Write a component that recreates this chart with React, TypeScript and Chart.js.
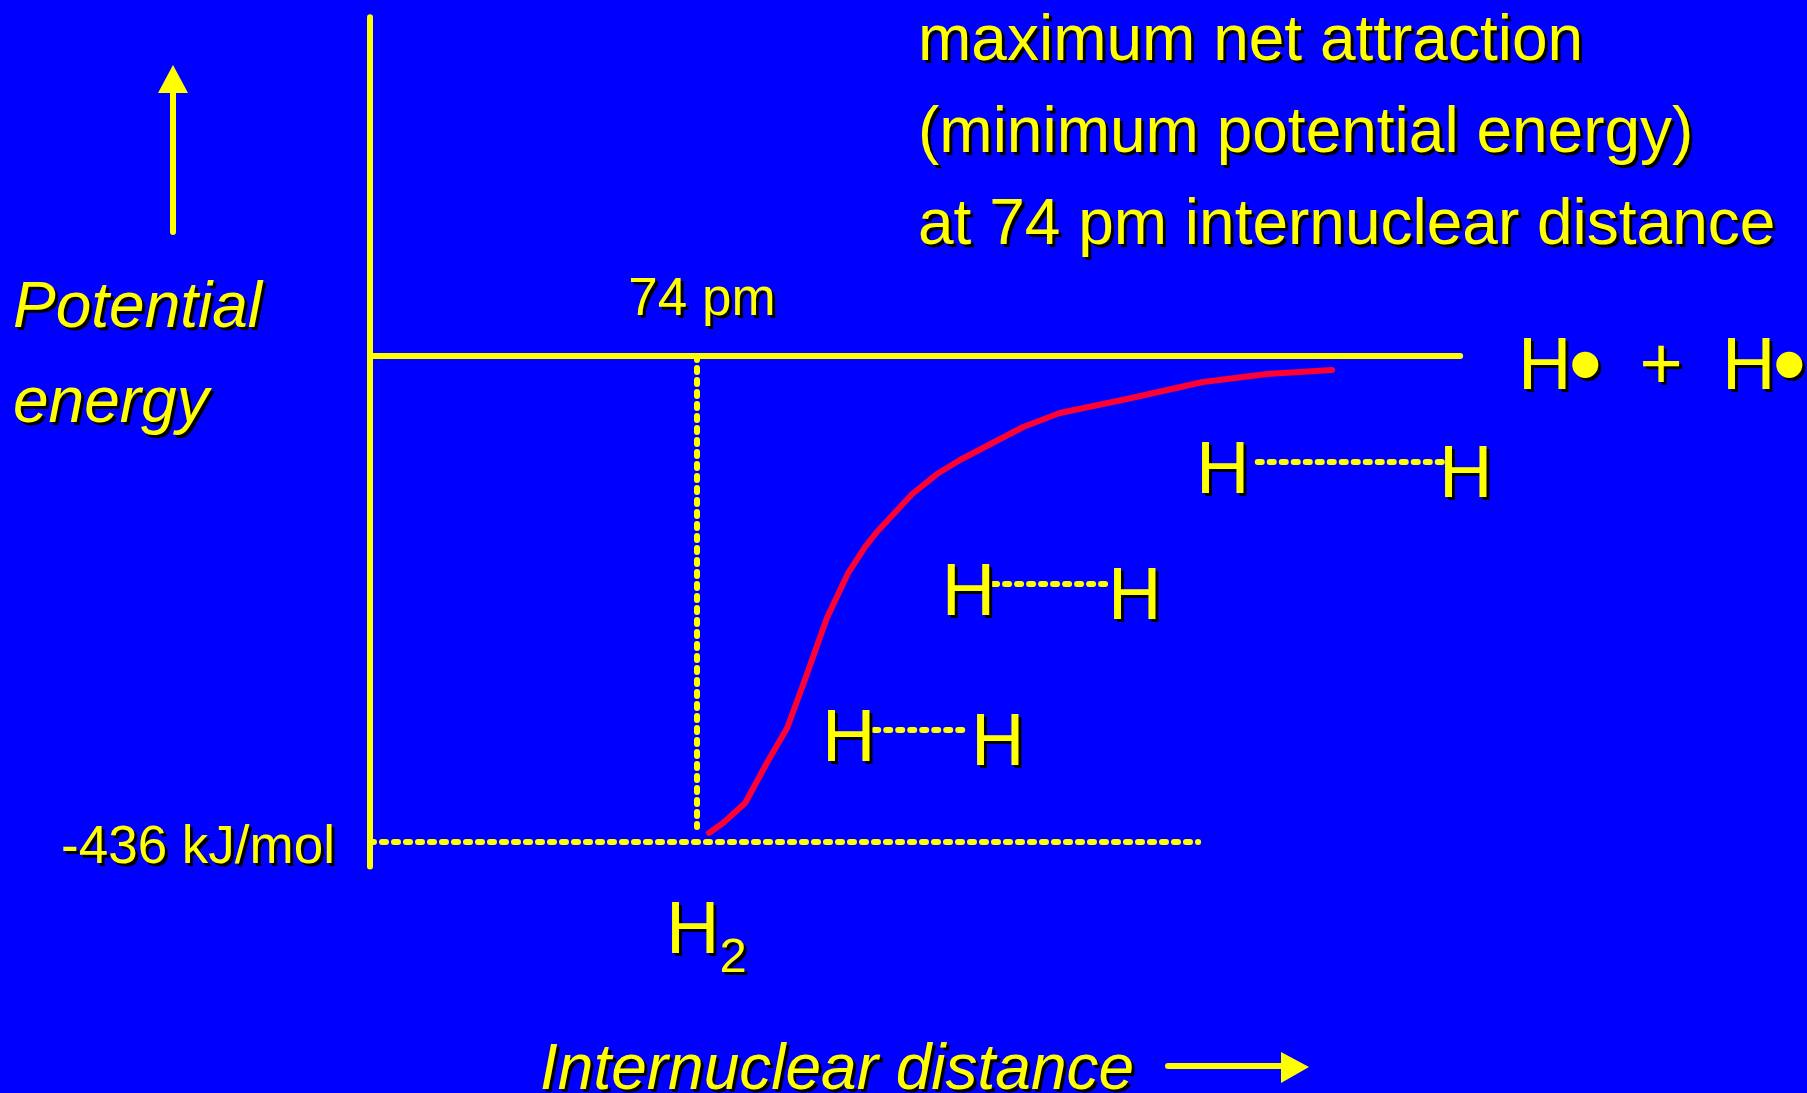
import { useEffect, useRef } from "react";
import { Chart, registerables } from "chart.js";

Chart.register(...registerables);

// Potential energy curve of two approaching hydrogen atoms
const distancePm = [76.7, 79.9, 84.9, 89.8, 94.4, 98.4, 103.4, 108.2, 112.0, 114.7, 122.7, 128.3, 133.5, 147.8, 156.1, 171.3, 188.5, 203.0, 217.7];
const energyKJ = [-427.9, -419.0, -401.0, -365.1, -333.7, -290.7, -235.0, -194.7, -171.4, -157.9, -123.8, -105.9, -93.3, -63.7, -51.1, -38.6, -23.3, -16.1, -12.6];

// Reference levels
const bondLengthPm = 74;
const bondEnergyKJ = -436;
const separatedEnergyKJ = 0;

// Sketched H----H pairs: bond dots from/to (pm), drawn at an energy level (kJ/mol)
const pairLevelKJ = [-95.1, -204.5, -335.5];
const pairBondFromPm = [200.9, 141.0, 114.1];
const pairBondToPm = [243.0, 167.9, 135.1];
const pairLeftAtomPm = [186.9, 129.4, 102.3];
const pairRightAtomPm = [241.9, 167.0, 136.0];

// Texts
const titleLines = ["maximum net attraction", "(minimum potential energy)", "at 74 pm internuclear distance"];
const yTitleLines = ["Potential", "energy"];
const xTitle = "Internuclear distance";
const bondLengthLabel = "74 pm";
const bondEnergyLabel = "-436 kJ/mol";
const moleculeLabel = "H";
const moleculeSub = "2";
const atomSymbol = "H";
const radicalDot = "\u2022";
const plusLabel = "+";

const BLUE = "#0000FF";
const YELLOW = "#FFFF00";
const RED = "#FF0033";
const FONT = '"Liberation Sans", Arial, Helvetica, sans-serif';

// Axis frame extents in data units
const AXIS_TOP_KJ = 304;
const AXIS_BOTTOM_KJ = -458;
const ZERO_LINE_END_PM = 246.7;
const MIN_LINE_END_PM = 187.4;
const DROP_LINE_END_KJ = -422.5;

const W = 1807;
const H = 1093;

function strokeLine(ctx: CanvasRenderingContext2D, x1: number, y1: number, x2: number, y2: number) {
  ctx.beginPath();
  ctx.moveTo(x1, y1);
  ctx.lineTo(x2, y2);
  ctx.stroke();
}

function shadowText(ctx: CanvasRenderingContext2D, text: string, x: number, y: number, font: string, align: CanvasTextAlign = "left") {
  ctx.save();
  ctx.font = font;
  ctx.textAlign = align;
  ctx.textBaseline = "alphabetic";
  ctx.fillStyle = YELLOW;
  ctx.shadowColor = "#000000";
  ctx.shadowOffsetX = 3;
  ctx.shadowOffsetY = 3;
  ctx.shadowBlur = 0;
  ctx.fillText(text, x, y);
  ctx.restore();
}

// "H•" with a slightly enlarged radical dot
function radical(ctx: CanvasRenderingContext2D, x: number, y: number) {
  const atomFont = `74px ${FONT}`;
  shadowText(ctx, atomSymbol, x, y, atomFont);
  ctx.save();
  ctx.font = atomFont;
  const w = ctx.measureText(atomSymbol).width;
  ctx.restore();
  shadowText(ctx, radicalDot, x + w - 3, y + 8, `96px ${FONT}`);
}

const energyDecor = {
  id: "energyDecor",
  beforeDraw(chart: any) {
    const { ctx } = chart;
    ctx.save();
    ctx.fillStyle = BLUE;
    ctx.fillRect(0, 0, chart.width, chart.height);
    ctx.restore();
  },
  beforeDatasetsDraw(chart: any) {
    const { ctx } = chart;
    const X = (v: number) => chart.scales.x.getPixelForValue(v);
    const Y = (v: number) => chart.scales.y.getPixelForValue(v);
    ctx.save();
    ctx.strokeStyle = YELLOW;
    ctx.fillStyle = YELLOW;
    ctx.lineCap = "round";
    ctx.lineWidth = 6;
    // energy axis and the separated-atoms level
    strokeLine(ctx, X(0), Y(AXIS_TOP_KJ), X(0), Y(AXIS_BOTTOM_KJ));
    strokeLine(ctx, X(0), Y(separatedEnergyKJ), X(ZERO_LINE_END_PM), Y(separatedEnergyKJ));

    // dotted guides
    ctx.setLineDash([4, 8]);
    strokeLine(ctx, X(0), Y(bondEnergyKJ), X(MIN_LINE_END_PM), Y(bondEnergyKJ));
    strokeLine(ctx, X(bondLengthPm), Y(separatedEnergyKJ), X(bondLengthPm), Y(DROP_LINE_END_KJ));
    for (let i = 0; i < pairLevelKJ.length; i++) {
      strokeLine(ctx, X(pairBondFromPm[i]), Y(pairLevelKJ[i]), X(pairBondToPm[i]), Y(pairLevelKJ[i]));
    }
    ctx.setLineDash([]);

    // direction arrows
    ctx.lineWidth = 6;
    strokeLine(ctx, 173, 232, 173, 90);
    ctx.beginPath();
    ctx.moveTo(173, 65);
    ctx.lineTo(188, 93);
    ctx.lineTo(158, 93);
    ctx.closePath();
    ctx.fill();

    strokeLine(ctx, 1168, 1066, 1284, 1066);
    ctx.beginPath();
    ctx.moveTo(1309, 1067);
    ctx.lineTo(1281, 1052);
    ctx.lineTo(1281, 1083);
    ctx.closePath();
    ctx.fill();
    ctx.restore();
  },
  afterDatasetsDraw(chart: any) {
    const { ctx } = chart;
    const X = (v: number) => chart.scales.x.getPixelForValue(v);
    const Y = (v: number) => chart.scales.y.getPixelForValue(v);
    const big = `64px ${FONT}`;
    const bigItalic = `italic 64px ${FONT}`;
    const mid = `53px ${FONT}`;
    const atom = `74px ${FONT}`;
    const sub = `49px ${FONT}`;

    titleLines.forEach((t, i) => shadowText(ctx, t, 918, 60 + i * 92, big));
    yTitleLines.forEach((t, i) => shadowText(ctx, t, 13, 327 + i * 95, bigItalic));
    shadowText(ctx, xTitle, 540, 1089, bigItalic);

    shadowText(ctx, bondLengthLabel, X(bondLengthPm) + 5, Y(separatedEnergyKJ) - 41, mid, "center");
    shadowText(ctx, bondEnergyLabel, X(0) - 35, Y(bondEnergyKJ) + 21, mid, "right");

    // H2 under the bond length
    const hx = X(bondLengthPm) - 31;
    const hy = Y(bondEnergyKJ) + 111;
    shadowText(ctx, moleculeLabel, hx, hy, atom);
    ctx.save();
    ctx.font = atom;
    const hw = ctx.measureText(moleculeLabel).width;
    ctx.restore();
    shadowText(ctx, moleculeSub, hx + hw, hy + 19, sub);

    // separated atoms
    const sy = Y(separatedEnergyKJ) + 33;
    radical(ctx, 1518, sy);
    shadowText(ctx, plusLabel, 1661, sy, atom, "center");
    radical(ctx, 1722, sy);

    // approaching atom pairs
    for (let i = 0; i < pairLevelKJ.length; i++) {
      const ly = Y(pairLevelKJ[i]);
      shadowText(ctx, "H", X(pairLeftAtomPm[i]), ly + 31, atom);
      shadowText(ctx, "H", X(pairRightAtomPm[i]), ly + 35, atom);
    }
  },
};

export default function App() {
  const canvasRef = useRef<HTMLCanvasElement | null>(null);

  useEffect(() => {
    const canvas = canvasRef.current;
    if (!canvas) return;
    const chart = new Chart(canvas, {
      type: "line",
      data: {
        datasets: [
          {
            label: "Potential energy",
            data: distancePm.map((d, i) => ({ x: d, y: energyKJ[i] })),
            borderColor: RED,
            borderWidth: 6,
            tension: 0,
            pointRadius: 0,
            borderCapStyle: "round",
            borderJoinStyle: "round",
            fill: false,
          },
        ],
      },
      options: {
        responsive: false,
        maintainAspectRatio: false,
        animation: false,
        events: [],
        layout: { padding: 0 },
        plugins: {
          legend: { display: false },
          tooltip: { enabled: false },
        },
        scales: {
          x: { type: "linear", display: false, min: -83.73, max: 325.19 },
          y: { type: "linear", display: false, min: -661.17, max: 319.37 },
        },
      },
      plugins: [energyDecor],
    });
    return () => chart.destroy();
  }, []);

  return (
    <div style={{ position: "fixed", left: 0, top: 0, width: W, height: H, background: BLUE, overflow: "hidden" }}>
      <canvas ref={canvasRef} width={W} height={H} style={{ display: "block", width: W, height: H }} />
    </div>
  );
}
